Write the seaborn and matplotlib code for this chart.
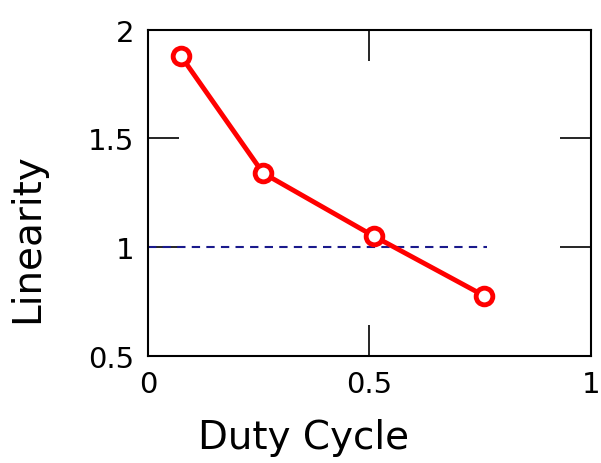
import pandas as pd
import matplotlib
matplotlib.use("Agg")
import matplotlib.pyplot as plt
import seaborn as sb

duty_cycle = [0.075, 0.26, 0.51, 0.76]
linearity = [1.878, 1.341, 1.051, 0.776]
ref_x = [0.0, 0.765]
ref_y = [1.0, 1.0]

sb.set_style("white")
plt.rcParams['font.family'] = ['DejaVu Sans']
plt.rcParams['text.color'] = 'black'
plt.rcParams['axes.labelcolor'] = 'black'
plt.rcParams['xtick.color'] = 'black'
plt.rcParams['ytick.color'] = 'black'

df = pd.DataFrame({"Duty Cycle": duty_cycle, "Linearity": linearity})

fig = plt.figure(figsize=(6.01, 4.64), dpi=100)
ax = fig.add_axes([0.246, 0.2306, 0.737, 0.7034])

ax.plot(ref_x, ref_y, color='#1a1a8c', linestyle=(0, (4, 3)), linewidth=1.5, zorder=1)
sb.lineplot(data=df, x="Duty Cycle", y="Linearity", color='red', linewidth=3.5,
            marker='o', markersize=12, markerfacecolor='white',
            markeredgecolor='red', markeredgewidth=3.5, ax=ax, zorder=2)

ax.set_xlim(0, 1)
ax.set_ylim(0.5, 2)
ax.set_xticks([0, 0.5, 1])
ax.set_xticklabels(['0', '0.5', '1'])
ax.set_yticks([0.5, 1, 1.5, 2])
ax.set_yticklabels(['0.5', '1', '1.5', '2'])
ax.tick_params(direction='in', length=22, width=1.2, top=True, right=True,
               bottom=True, left=True, labelsize=21, pad=10, colors='black')
for s in ax.spines.values():
    s.set_color('black')
    s.set_linewidth(1.5)
ax.set_xlabel("Duty Cycle", fontsize=28)
ax.set_ylabel("Linearity", fontsize=28)
ax.xaxis.set_label_coords(0.352, -0.19)
ax.yaxis.set_label_coords(-0.23, 0.364)

plt.savefig("out.png", dpi=100)
